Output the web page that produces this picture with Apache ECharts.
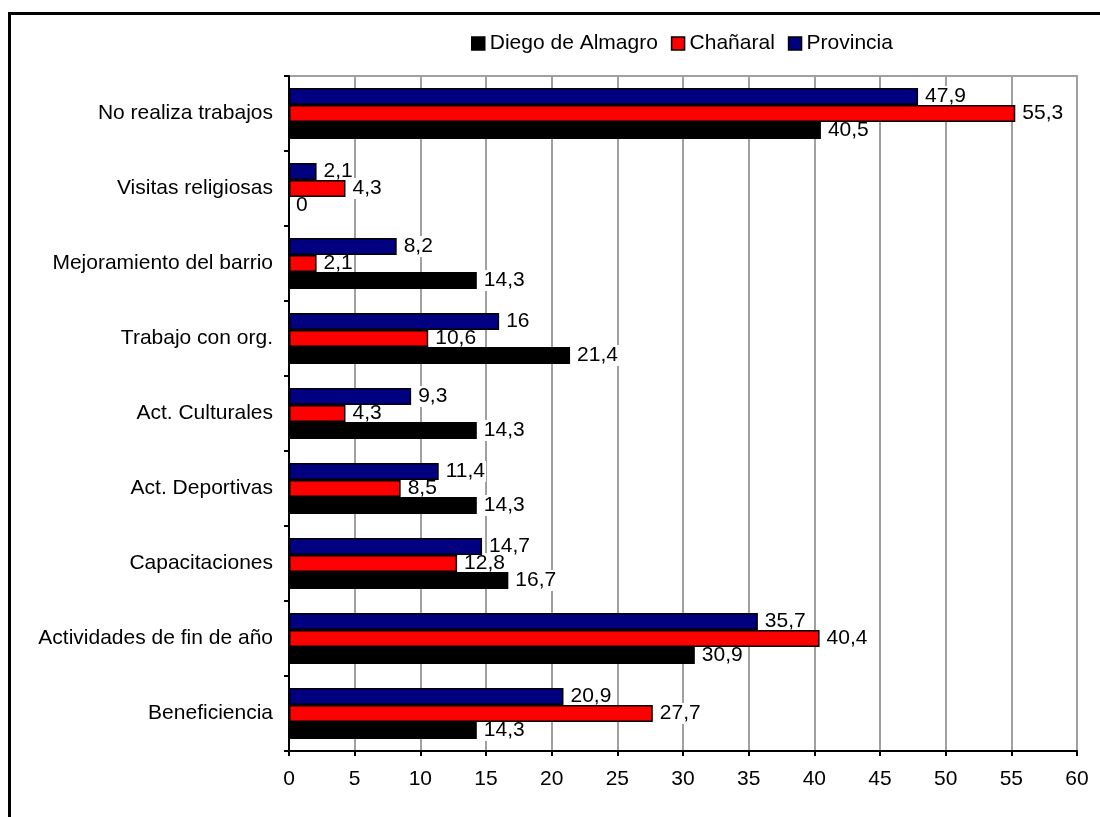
<!DOCTYPE html>
<html>
<head>
<meta charset="utf-8">
<script src="https://cdn.jsdelivr.net/npm/echarts@6/dist/echarts.min.js"></script>
<style>
html,body{margin:0;padding:0;background:#fff;}
#chart{width:1100px;height:817px;}
</style>
</head>
<body>
<div id="chart"></div>
<script>
const categories = ['Beneficiencia','Actividades de fin de año','Capacitaciones','Act. Deportivas','Act. Culturales','Trabajo con org.','Mejoramiento del barrio','Visitas religiosas','No realiza trabajos'];
const seriesNames = ['Diego de Almagro','Chañaral','Provincia'];
const diegoDeAlmagro = [14.3, 30.9, 16.7, 14.3, 14.3, 21.4, 14.3, 0, 40.5];
const chanaral = [27.7, 40.4, 12.8, 8.5, 4.3, 10.6, 2.1, 4.3, 55.3];
const provincia = [20.9, 35.7, 14.7, 11.4, 9.3, 16, 8.2, 2.1, 47.9];
const xTicks = {min: 0, max: 60, interval: 5};

const colors = ['#000000', '#ff0000', '#000080'];
const values = [diegoDeAlmagro, chanaral, provincia];
const FONT = 'Liberation Sans, Arial, sans-serif';

const chart = echarts.init(document.getElementById('chart'), null, {renderer: 'canvas'});

// ECharts stacks horizontal bars top-down in series order, so draw Provincia first
const drawOrder = [2, 1, 0];

const barSeries = drawOrder.map(i => ({
  name: seriesNames[i],
  type: 'bar',
  yAxisIndex: 0,
  data: values[i],
  barWidth: 17,
  barGap: '0%',
  z: 3,
  itemStyle: {color: colors[i], borderColor: '#000', borderWidth: 1.5},
  emphasis: {disabled: true},
  animation: false
}));
const labelSeries = drawOrder.map(i => ({
  name: 'lbl' + i,
  type: 'bar',
  yAxisIndex: 1,
  data: values[i],
  barWidth: 17,
  barGap: '0%',
  z: 1,
  itemStyle: {color: 'rgba(0,0,0,0)', borderWidth: 0},
  label: {
    show: true,
    position: 'right',
    distance: 6,
    fontFamily: FONT,
    fontSize: 21,
    color: '#000',
    backgroundColor: '#fff',
    padding: [0, 1],
    formatter: p => String(p.value).replace('.', ',')
  },
  emphasis: {disabled: true},
  animation: false
}));

chart.setOption({
  animation: false,
  textStyle: {fontFamily: FONT},
  graphic: [{
    type: 'rect',
    shape: {x: 9.5, y: 13.5, width: 1200, height: 900},
    style: {fill: 'none', stroke: '#000', lineWidth: 3},
    silent: true,
    z: 100
  }],
  legend: {
    data: seriesNames,
    left: 466,
    top: 28,
    itemWidth: 13,
    itemHeight: 13,
    itemGap: 13,
    icon: 'rect',
    itemStyle: {borderColor: '#000', borderWidth: 1.5},
    textStyle: {fontFamily: FONT, fontSize: 21, color: '#000'},
    selectedMode: false
  },
  grid: {
    left: 289, right: 23, top: 76, bottom: 66,
    show: true, borderColor: '#a0a0a0', borderWidth: 2, backgroundColor: 'transparent'
  },
  xAxis: {
    type: 'value',
    min: xTicks.min, max: xTicks.max, interval: xTicks.interval,
    axisLine: {show: true, lineStyle: {color: '#000', width: 2}},
    axisTick: {show: true, length: 5, lineStyle: {color: '#000', width: 2}},
    axisLabel: {fontFamily: FONT, fontSize: 21, color: '#000', margin: 18},
    splitLine: {show: true, lineStyle: {color: '#a0a0a0', width: 2}}
  },
  yAxis: [{
    type: 'category',
    data: categories,
    axisLine: {show: true, lineStyle: {color: '#000', width: 2}},
    axisTick: {show: true, length: 5, lineStyle: {color: '#000', width: 2}},
    axisLabel: {fontFamily: FONT, fontSize: 21, color: '#000', margin: 16},
    splitLine: {show: false},
    z: 5
  }, {
    type: 'category',
    data: categories,
    show: false
  }],
  series: barSeries.concat(labelSeries)
});
</script>
</body>
</html>
